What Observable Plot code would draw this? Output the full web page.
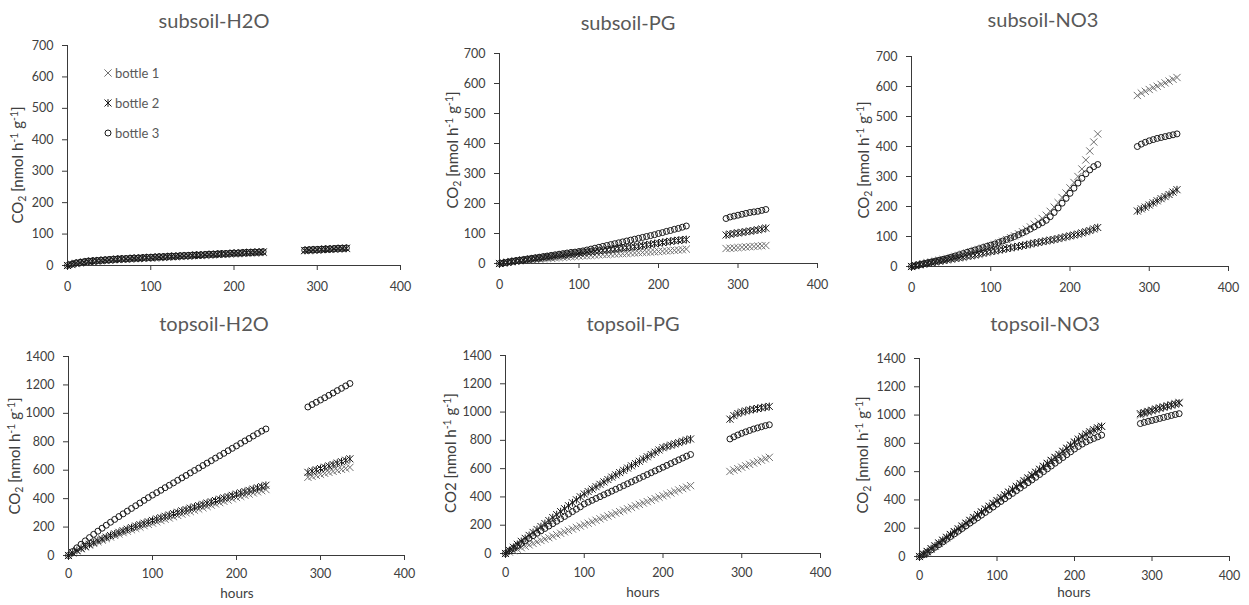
<!DOCTYPE html>
<html>
<head>
<meta charset="utf-8">
<script src="https://cdn.jsdelivr.net/npm/d3@7"></script>
<script src="https://cdn.jsdelivr.net/npm/@observablehq/plot@0.6"></script>
<style>
  html, body { margin: 0; padding: 0; background: #fff; }
  #root { position: relative; width: 1249px; height: 605px; overflow: hidden; font-family: Lato, "Open Sans", sans-serif; }
  .panel { position: absolute; }
  .title { position: absolute; transform: translate(-50%, -50%); font-size: 20px; color: #595959; white-space: nowrap; }
  .ylab { position: absolute; transform: translate(-50%, -50%) rotate(-90deg); font-size: 15px; color: #404040; white-space: nowrap; }
  .ylab sub, .ylab sup { font-size: 70%; }
  .ylab sup { vertical-align: 0.45em; }
  .ylab sub { vertical-align: -0.25em; }
  .xlab { position: absolute; transform: translate(-50%, -50%); font-size: 13.5px; color: #404040; white-space: nowrap; }
  .legend { position: absolute; left: 102px; top: 58px; }
  .legend .row { display: flex; align-items: center; height: 30px; font-size: 13px; color: #595959; }
  .legend .row svg { margin-right: 1px; }
</style>
</head>
<body>
<div id="root"></div>
<script>
// ---------------- data ----------------
const hours = [0,5,10,15,20,25,30,35,40,45,50,55,60,65,70,75,80,85,90,95,100,105,110,115,120,125,130,135,140,145,150,155,160,165,170,175,180,185,190,195,200,205,210,215,220,225,230,235,
               285,290,295,300,305,310,315,320,325,330,335];

const panelTitles = ["subsoil-H2O", "subsoil-PG", "subsoil-NO3", "topsoil-H2O", "topsoil-PG", "topsoil-NO3"];
const legendLabels = ["bottle 1", "bottle 2", "bottle 3"];
const xTicks = [0, 100, 200, 300, 400];
const yTicksSub = [0, 100, 200, 300, 400, 500, 600, 700];
const yTicksTop = [0, 200, 400, 600, 800, 1000, 1200, 1400];
const xLabel = "hours";

// subsoil-H2O
const subH2O_b1 = [0,3,6,8,10,12,13,14,15,16,17,18,19,20,20,21,22,22,23,24,24,25,26,26,27,28,28,29,30,30,31,32,32,33,34,34,35,36,36,37,38,38,39,40,40,41,41,42,
                   47,48,49,49,50,51,51,52,53,53,54];
const subH2O_b2 = [0,4,7,9,11,13,14,15,16,17,18,19,20,21,21,22,23,23,24,25,25,26,27,27,28,29,29,30,31,31,32,33,33,34,35,35,36,37,37,38,39,39,40,41,41,42,42,43,
                   48,49,50,50,51,52,52,53,54,54,55];
const subH2O_b3 = [0,4,8,10,12,14,15,16,17,18,19,20,21,22,22,23,24,24,25,26,26,27,28,28,29,30,30,31,32,32,33,34,34,35,36,36,37,38,38,39,40,40,41,42,42,43,43,44,
                   49,50,51,51,52,53,53,54,55,55,56];
// subsoil-PG
const subPG_b1 = [0,2,4,6,8,9,11,12,13,14,15,16,17,18,19,20,21,22,23,24,25,26,26,27,28,29,30,30,31,32,33,33,34,35,35,36,37,38,38,39,40,41,42,43,44,45,46,48,
                  50,51,52,53,54,55,56,57,58,59,60];
const subPG_b2 = [0,2,4,6,8,10,11,13,15,17,18,20,22,23,25,27,28,30,31,33,35,36,38,39,41,42,44,45,47,48,50,52,53,55,56,58,60,62,64,66,68,70,72,74,76,77,79,80,
                  95,98,100,102,104,106,108,110,112,115,118];
const subPG_b3 = [0,2,4,7,9,11,13,15,17,19,21,23,25,27,29,31,33,35,37,38,40,42,45,48,51,54,57,60,63,66,69,72,75,78,81,84,87,90,93,96,100,103,107,110,114,117,121,125,
                  150,155,158,161,164,167,170,172,174,177,180];
// subsoil-NO3
const subNO3_b1 = [0,3,6,9,12,15,18,21,24,27,30,34,37,41,45,49,53,57,61,65,69,74,79,84,90,96,102,109,116,124,132,141,150,160,171,184,198,213,230,245,262,280,300,325,355,385,415,442,
                   570,578,584,590,596,601,607,612,618,624,630];
const subNO3_b2 = [0,3,6,8,11,13,15,18,20,22,25,27,29,31,34,36,38,41,44,47,50,52,55,57,60,62,65,67,70,72,75,78,80,83,85,88,90,93,96,99,102,105,108,112,116,120,125,130,
                   185,192,198,205,212,219,226,233,240,248,256];
const subNO3_b3 = [0,3,6,9,12,15,18,21,24,27,31,35,39,43,47,51,55,59,63,67,71,75,80,85,90,95,100,106,112,118,125,132,139,146,154,166,180,195,211,227,244,261,278,294,309,322,333,340,
                   400,408,414,419,423,427,430,433,436,439,442];
// topsoil-H2O
const topH2O_b1 = [0,18,33,47,60,73,85,97,108,119,130,141,151,161,171,181,191,200,210,219,228,237,246,255,264,273,282,291,300,309,318,327,336,345,354,363,372,381,390,399,408,416,424,432,440,448,456,464,
                   550,557,564,571,578,585,592,599,606,613,620];
const topH2O_b2 = [0,20,36,51,65,79,92,105,117,129,141,152,163,174,185,196,207,217,227,237,247,257,266,276,285,295,304,314,323,333,342,351,360,369,378,387,396,405,414,423,432,441,450,458,467,476,485,494,
                   585,594,603,612,621,630,640,650,660,670,680];
const topH2O_b3 = [0,28,54,79,103,126,149,171,192,213,234,254,274,293,312,331,350,369,388,407,425,442,459,477,494,511,529,546,563,581,598,615,633,650,667,685,702,719,737,754,771,789,806,823,841,858,875,890,
                   1045,1062,1078,1094,1110,1127,1143,1160,1176,1193,1210];
// topsoil-PG
const topPG_b1 = [0,10,20,31,41,51,61,71,82,92,102,112,122,133,143,153,163,173,184,194,204,214,224,235,245,255,265,275,286,296,306,316,326,337,347,357,367,377,388,398,408,418,428,439,449,459,469,480,
                  580,590,600,610,620,630,640,650,660,670,680];
const topPG_b2 = [0,22,44,65,86,107,128,149,170,191,212,233,254,275,296,317,338,359,380,401,421,438,455,472,489,506,523,540,556,572,588,604,620,636,652,668,684,700,716,732,748,757,766,775,784,793,802,810,
                  950,975,990,1000,1008,1015,1020,1025,1030,1035,1040];
const topPG_b3 = [0,18,36,54,72,90,108,126,143,160,177,194,211,228,245,262,279,296,313,330,350,363,376,389,402,415,428,441,454,467,480,493,506,519,532,545,558,571,584,597,610,623,636,649,662,675,688,700,
                  810,825,838,850,860,870,880,888,896,904,910];
// topsoil-NO3
const topNO3_b1 = [0,15,32,52,72,92,112,132,152,172,192,212,232,252,272,292,312,332,352,372,392,412,432,452,472,492,512,532,552,572,592,613,634,655,676,697,718,740,762,784,805,825,845,862,878,893,907,920,
                   1000,1010,1020,1030,1040,1048,1056,1064,1072,1080,1090];
const topNO3_b2 = [0,18,36,56,76,96,116,136,156,176,196,216,236,256,276,296,316,336,356,376,396,416,436,456,476,496,516,536,556,576,596,617,638,659,680,701,722,744,766,788,810,830,849,866,882,896,909,920,
                   1010,1018,1026,1034,1042,1050,1057,1064,1071,1078,1085];
const topNO3_b3 = [0,12,28,46,65,84,103,122,141,160,179,198,217,236,255,274,293,312,331,350,370,389,408,427,446,465,484,503,522,541,560,580,600,620,640,660,680,700,720,740,760,778,795,810,823,835,846,858,
                   940,948,955,962,969,976,983,990,997,1004,1010];

// ---------------- styles ----------------
const symTimes = {draw(ctx, size) { const r = Math.sqrt(size / Math.PI); ctx.moveTo(-r, -r); ctx.lineTo(r, r); ctx.moveTo(-r, r); ctx.lineTo(r, -r); }};
const symStar = {draw(ctx, size) { const r = Math.sqrt(size / Math.PI); ctx.moveTo(-r, -r); ctx.lineTo(r, r); ctx.moveTo(-r, r); ctx.lineTo(r, -r); ctx.moveTo(0, -r * 1.1); ctx.lineTo(0, r * 1.1); }};
const bottleStyles = [
  {symbol: symTimes, stroke: "#707070", r: 3.6},
  {symbol: symStar, stroke: "#1a1a1a", r: 3.5},
  {symbol: "circle", stroke: "#1a1a1a", r: 3.0}
];
const axisColor = "#3a3a3a";
const tickTextColor = "#404040";

const ySub = 'CO<sub>2</sub> [nmol h<sup>-1</sup> g<sup>-1</sup>]';
const yPG = 'CO2 [nmol h<sup>-1</sup> g<sup>-1</sup>]';

const layouts = [
  {left: 0,   top: 30,  width: 420, height: 270, ml: 67, mr: 20, mt: 15, mb: 35, xPad: 12, tx: 214,  ty: 20,  lx: 18,  ly: 165},
  {left: 420, top: 30,  width: 420, height: 270, ml: 79, mr: 23, mt: 23, mb: 37, xPad: 12, tx: 628,  ty: 22,  lx: 453, ly: 150},
  {left: 830, top: 30,  width: 419, height: 270, ml: 81, mr: 21, mt: 26, mb: 34, xPad: 12, tx: 1043, ty: 19,  lx: 864, ly: 160},
  {left: 0,   top: 340, width: 420, height: 240, ml: 68, mr: 16, mt: 16, mb: 25, xPad: 9,  tx: 214,  ty: 323, lx: 15,  ly: 456, hx: 237,  hy: 593},
  {left: 420, top: 340, width: 420, height: 240, ml: 85, mr: 20, mt: 15, mb: 27, xPad: 10, tx: 633,  ty: 323, lx: 450, ly: 453, hx: 643,  hy: 592},
  {left: 830, top: 340, width: 419, height: 240, ml: 89, mr: 20, mt: 18, mb: 24, xPad: 10, tx: 1045, ty: 323, lx: 863, ly: 455, hx: 1074, hy: 592}
];

const panels = [
  {title: panelTitles[0], series: [subH2O_b1, subH2O_b2, subH2O_b3], yTicks: yTicksSub, ylab: ySub},
  {title: panelTitles[1], series: [subPG_b1, subPG_b2, subPG_b3], yTicks: yTicksSub, ylab: ySub},
  {title: panelTitles[2], series: [subNO3_b1, subNO3_b2, subNO3_b3], yTicks: yTicksSub, ylab: ySub},
  {title: panelTitles[3], series: [topH2O_b1, topH2O_b2, topH2O_b3], yTicks: yTicksTop, ylab: ySub},
  {title: panelTitles[4], series: [topPG_b1, topPG_b2, topPG_b3], yTicks: yTicksTop, ylab: yPG},
  {title: panelTitles[5], series: [topNO3_b1, topNO3_b2, topNO3_b3], yTicks: yTicksTop, ylab: ySub}
];

// ---------------- render ----------------
const root = document.getElementById("root");

panels.forEach((p, i) => {
  const L = layouts[i];
  const yMax = p.yTicks[p.yTicks.length - 1];
  const dotMarks = p.series.map((vals, b) => {
    const data = hours.map((h, k) => ({hours: h, value: vals[k], bottle: legendLabels[b]}));
    const s = bottleStyles[b];
    return Plot.dot(data, {x: "hours", y: "value", symbol: s.symbol, r: s.r, stroke: s.stroke, fill: "none", strokeWidth: 1});
  });
  const svg = Plot.plot({
    width: L.width, height: L.height,
    marginLeft: L.ml, marginRight: L.mr, marginTop: L.mt, marginBottom: L.mb,
    style: {fontFamily: "Lato, 'Open Sans', sans-serif", fontSize: "12.5px", color: tickTextColor, background: "transparent", overflow: "visible"},
    x: {domain: [xTicks[0], xTicks[xTicks.length - 1]]},
    y: {domain: [0, yMax]},
    marks: [
      Plot.axisX({ticks: xTicks, tickSize: 5, tickPadding: L.xPad, label: null, stroke: axisColor, fill: tickTextColor, tickFormat: d => String(d)}),
      Plot.axisY({ticks: p.yTicks, tickSize: 5, tickPadding: 9, label: null, stroke: axisColor, fill: tickTextColor, tickFormat: d => String(d)}),
      Plot.ruleY([0], {stroke: axisColor}),
      Plot.ruleX([0], {stroke: axisColor}),
      ...dotMarks
    ]
  });
  svg.classList.add("panel");
  svg.style.left = L.left + "px";
  svg.style.top = L.top + "px";
  root.appendChild(svg);

  const t = document.createElement("div");
  t.className = "title";
  t.textContent = p.title;
  t.style.left = L.tx + "px"; t.style.top = L.ty + "px";
  root.appendChild(t);

  const yl = document.createElement("div");
  yl.className = "ylab";
  yl.innerHTML = p.ylab;
  yl.style.left = L.lx + "px"; yl.style.top = L.ly + "px";
  root.appendChild(yl);

  if (L.hx != null) {
    const xl = document.createElement("div");
    xl.className = "xlab";
    xl.textContent = xLabel;
    xl.style.left = L.hx + "px"; xl.style.top = L.hy + "px";
    root.appendChild(xl);
  }
});

// legend (inside first panel)
const legend = document.createElement("div");
legend.className = "legend";
legendLabels.forEach((lab, b) => {
  const s = bottleStyles[b];
  const row = document.createElement("div");
  row.className = "row";
  const size = Math.PI * s.r * s.r;
  const pathD = d3.symbol(typeof s.symbol === "string" ? d3.symbolCircle : s.symbol, size)();
  row.innerHTML = `<svg width="12" height="12" viewBox="-6 -6 12 12"><path d="${pathD}" fill="none" stroke="${s.stroke}" stroke-width="1"></path></svg><span>${lab}</span>`;
  legend.appendChild(row);
});
root.appendChild(legend);
</script>
</body>
</html>
